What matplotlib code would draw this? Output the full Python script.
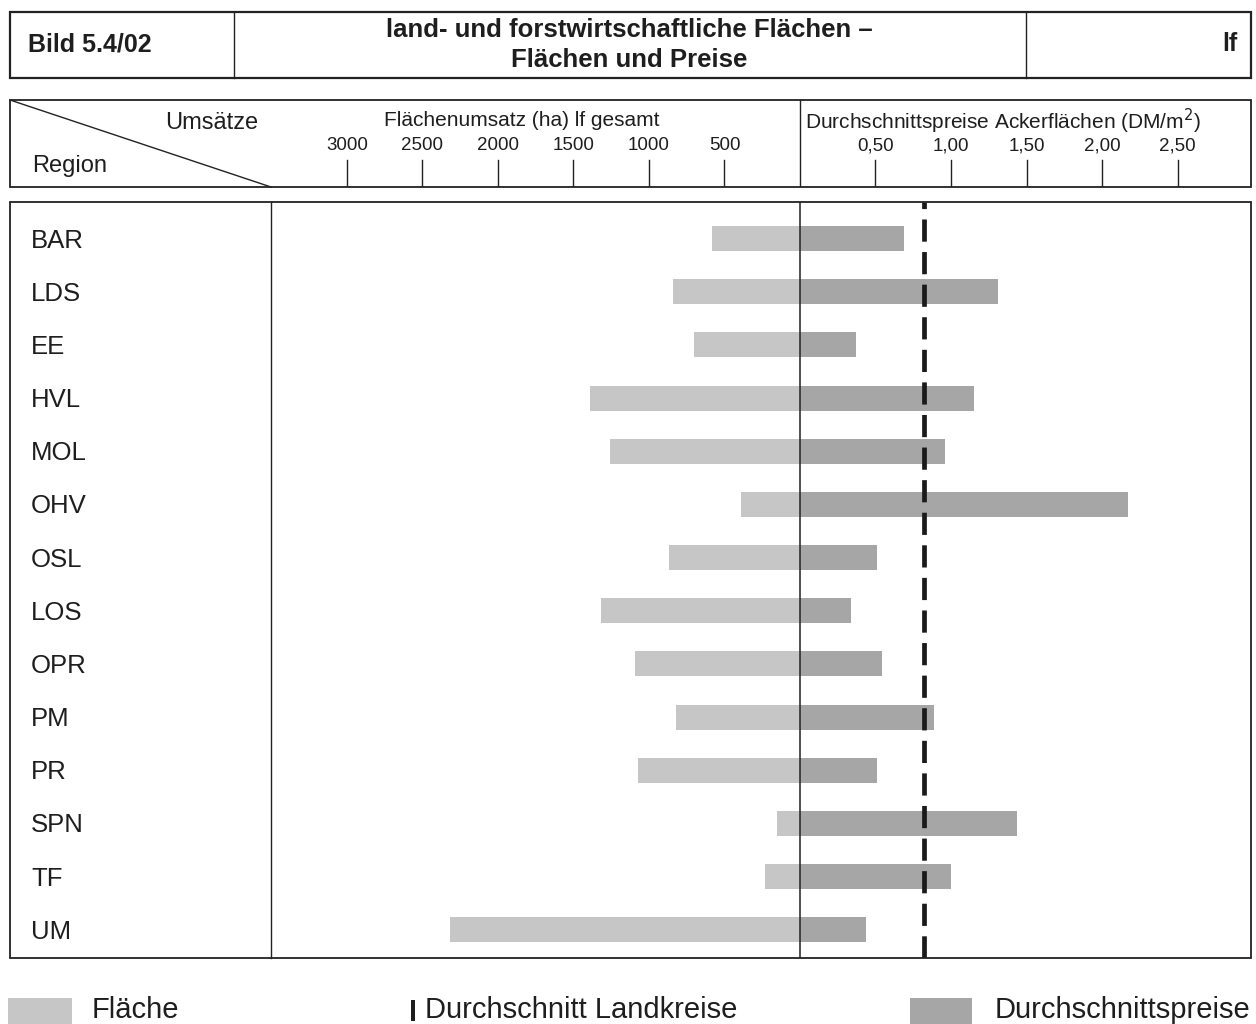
import matplotlib
matplotlib.use("Agg")
import matplotlib.pyplot as plt
from matplotlib.lines import Line2D
from matplotlib.patches import Rectangle
import matplotlib.transforms as mtransforms

plt.rcParams['font.family'] = ['Liberation Sans', 'DejaVu Sans']

# --- data ---------------------------------------------------------------
regions = ["BAR", "LDS", "EE", "HVL", "MOL", "OHV", "OSL", "LOS",
           "OPR", "PM", "PR", "SPN", "TF", "UM"]
area_ha = [580, 840, 705, 1390, 1255, 390, 870, 1320,
           1095, 820, 1073, 154, 230, 2318]
price_dm = [0.69, 1.31, 0.37, 1.15, 0.96, 2.17, 0.51, 0.34,
            0.54, 0.89, 0.51, 1.44, 1.00, 0.44]
avg_price = 0.82
area_ticks = [3000, 2500, 2000, 1500, 1000, 500]
price_ticks = [0.5, 1.0, 1.5, 2.0, 2.5]
price_tick_labels = ["0,50", "1,00", "1,50", "2,00", "2,50"]

W, H = 1256, 1024
fig = plt.figure(figsize=(W / 100, H / 100), dpi=100)


def fx(px):
    return px / W


def fy(py):
    return 1 - py / H


def box(x0, y0, x1, y1, lw=1.3):
    fig.add_artist(Rectangle((fx(x0), fy(y1)), fx(x1) - fx(x0), fy(y0) - fy(y1),
                             transform=fig.transFigure, fill=False,
                             edgecolor="#222222", linewidth=lw))


def vline(x, y0, y1, lw=1.0, color="#222222"):
    fig.add_artist(Line2D([fx(x), fx(x)], [fy(y0), fy(y1)],
                          transform=fig.transFigure, color=color, linewidth=lw))


AREA_COLOR = "#c6c6c6"
PRICE_COLOR = "#a6a6a6"
TEXT = "#1e1e1e"

# --- title block ----------------------------------------------------------
box(10, 12, 1251, 78, lw=1.6)
vline(234, 12, 78)
vline(1026, 12, 78)
fig.text(fx(28), fy(45), "Bild 5.4/02", fontsize=18, fontweight="bold",
         ha="left", va="center", color=TEXT)
fig.text(fx(629), fy(30), "land- und forstwirtschaftliche Flächen –", fontsize=18.5,
         fontweight="bold", ha="center", va="center", color=TEXT)
fig.text(fx(629), fy(60), "Flächen und Preise", fontsize=18.5,
         fontweight="bold", ha="center", va="center", color=TEXT)
fig.text(fx(1237), fy(44), "lf", fontsize=18, fontweight="bold",
         ha="right", va="center", color=TEXT)

# --- axis geometry shared by header and body -----------------------------
x_left_px, x_right_px, x_zero_px = 271, 1251, 800
px_per_unit = 151.0
xlim = ((x_left_px - x_zero_px) / px_per_unit, (x_right_px - x_zero_px) / px_per_unit)

# --- header ---------------------------------------------------------------
box(10, 100, 1251, 187, lw=1.3)
fig.add_artist(Line2D([fx(10), fx(271)], [fy(100), fy(187)],
                      transform=fig.transFigure, color="#222222", linewidth=1.0))
fig.text(fx(258), fy(123), "Umsätze", fontsize=17, ha="right", va="center", color=TEXT)
fig.text(fx(32), fy(166), "Region", fontsize=17, ha="left", va="center", color=TEXT)

hax = fig.add_axes([fx(x_left_px), fy(187), fx(x_right_px) - fx(x_left_px), fy(100) - fy(187)])
hax.set_xlim(*xlim)
hax.set_ylim(0, 87)
hax.axis("off")
hax.axvline(0, color="#222222", linewidth=1.0)
hax.plot([x_left_px, x_left_px], [0, 87], color="#222222", lw=1.0,
         transform=mtransforms.blended_transform_factory(fig.transFigure, hax.transData))
for t in area_ticks:
    hax.plot([-t / 1000, -t / 1000], [0, 27], color="#222222", linewidth=1.0)
    hax.text(-t / 1000, 41, str(t), fontsize=13.5, ha="center", va="center", color=TEXT)
for t, lab in zip(price_ticks, price_tick_labels):
    hax.plot([t, t], [0, 27], color="#222222", linewidth=1.0)
    hax.text(t, 41, lab, fontsize=13.5, ha="center", va="center", color=TEXT)
hax.text(-1.845, 66, "Flächenumsatz (ha) lf gesamt", fontsize=15,
         ha="center", va="center", color=TEXT)
hax.text(1.345, 66, "Durchschnittspreise Ackerflächen (DM/m$^2$)", fontsize=15,
         ha="center", va="center", color=TEXT)

# --- body -----------------------------------------------------------------
box(10, 202, 1251, 958, lw=1.3)
vline(271, 202, 958)

ax = fig.add_axes([fx(x_left_px), fy(958), fx(x_right_px) - fx(x_left_px), fy(202) - fy(958)])
ax.set_xlim(*xlim)
row_px = 53.17
ax.set_ylim(len(regions) - 1 + 28.3 / row_px, -36.5 / row_px)
ax.axis("off")

ypos = list(range(len(regions)))
ax.barh(ypos, [-a / 1000 for a in area_ha], height=0.47, color=AREA_COLOR,
        linewidth=0, zorder=2)
ax.barh(ypos, price_dm, height=0.47, color=PRICE_COLOR, linewidth=0, zorder=2)
ax.axvline(0, color="#222222", linewidth=1.1, zorder=3)
ax.axvline(avg_price, color="#1a1a1a", linewidth=3.4, linestyle=(0, (4.7, 2.2)),
           zorder=4)

label_tf = mtransforms.blended_transform_factory(fig.transFigure, ax.transData)
for y, name in zip(ypos, regions):
    ax.text(fx(31), y + 0.04, name, transform=label_tf, fontsize=18.5,
            ha="left", va="center", color=TEXT, clip_on=False)

# --- legend ---------------------------------------------------------------
fig.add_artist(Rectangle((fx(8), fy(1024)), fx(72) - fx(8), fy(998) - fy(1024),
                         transform=fig.transFigure, facecolor=AREA_COLOR,
                         edgecolor="none"))
fig.text(fx(92), fy(1010), "Fläche", fontsize=21, ha="left", va="center", color=TEXT)
fig.add_artist(Rectangle((fx(411), fy(1021)), fx(415) - fx(411), fy(1000) - fy(1021),
                         transform=fig.transFigure, facecolor="#1e1e1e",
                         edgecolor="none"))
fig.text(fx(425), fy(1010), "Durchschnitt Landkreise", fontsize=21,
         ha="left", va="center", color=TEXT)
fig.add_artist(Rectangle((fx(910), fy(1024)), fx(972) - fx(910), fy(998) - fy(1024),
                         transform=fig.transFigure, facecolor=PRICE_COLOR,
                         edgecolor="none"))
fig.text(fx(1250), fy(1010), "Durchschnittspreise", fontsize=21,
         ha="right", va="center", color=TEXT)

fig.savefig("out.png", dpi=100)
